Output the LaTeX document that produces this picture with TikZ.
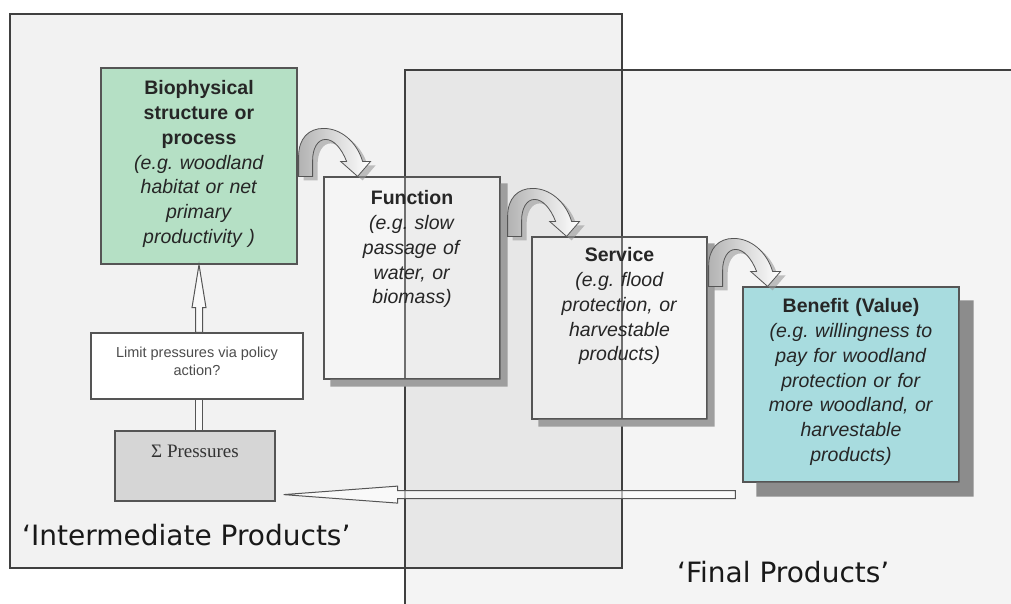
\documentclass[tikz,border=0pt]{standalone}
\usepackage{fontspec}
\setmainfont{Liberation Sans}
\newfontfamily\pressfont{Liberation Serif}
\newfontfamily\panelfont{DejaVu Sans}
\usetikzlibrary{positioning,calc}
\definecolor{panelgray}{HTML}{F2F2F2}
\definecolor{biogreen}{HTML}{B5E0C5}
\definecolor{benefitblue}{HTML}{A8DCDF}
\definecolor{pressgray}{HTML}{D6D6D6}
\definecolor{edgegray}{HTML}{555555}
\frenchspacing

\begin{document}
\begin{tikzpicture}[x=1pt,y=-1pt,
  box/.style={draw=edgegray,line width=1.2pt,inner sep=0pt},
  glassbox/.style={box,fill=white,fill opacity=0.25},
  txt/.style={inner sep=0pt,align=center,text=black!85,font=\fontsize{19.5}{24.8}\selectfont},
  boxshadow/.style={fill=black!38},
  hollow/.style={draw=edgegray,line width=1pt,fill=white,fill opacity=0.6},
  panel/.style={draw=black!75,line width=1.4pt},
  bend arrow/.pic={
    \fill[black!40,fill opacity=0.6,shift={(5,4)}] (0,0) -- (0,-20) .. controls (0,-38) and (10,-48) .. (25,-48) .. controls (42,-48) and (58,-35) .. (64,-15) -- (72,-15) -- (59,0) -- (42,-15) -- (48,-15) .. controls (43,-28) and (35,-37) .. (27,-37) .. controls (19,-37) and (14,-28) .. (14,-16) -- (14,0) -- cycle;
    \draw[draw=edgegray,line width=0.8pt,left color=black!30,right color=white] (0,0) -- (0,-20) .. controls (0,-38) and (10,-48) .. (25,-48) .. controls (42,-48) and (58,-35) .. (64,-15) -- (72,-15) -- (59,0) -- (42,-15) -- (48,-15) .. controls (43,-28) and (35,-37) .. (27,-37) .. controls (19,-37) and (14,-28) .. (14,-16) -- (14,0) -- cycle;
  }
]
\clip (0,0) rectangle (1011,603);
\fill[white] (0,0) rectangle (1011,603);

% the two panels
\fill[panelgray] (10,14) rectangle (622,568);
\fill[black,fill opacity=0.045] (405,70) rectangle (1020,610);
\draw[panel] (405,70) rectangle (1020,610);
\draw[panel] (10,14) rectangle (622,568);

% boxes
\node[box,fill=biogreen,minimum width=196pt,minimum height=196pt] (bio) at (199,166) {};
\node[txt,text width=190pt,below=13pt of bio.north] (biotxt) {\textbf{Biophysical}\\\textbf{structure or}\\\textbf{process}\\\textit{(e.g. woodland}\\\textit{habitat or net}\\\textit{primary}\\\textit{productivity )}};

\node[glassbox,minimum width=176pt,minimum height=202pt] (fun) at (412,278) {};
\fill[boxshadow] ([shift={(0,7)}]fun.north east) rectangle ([shift={(7,7)}]fun.south east)
  ([shift={(7,0)}]fun.south west) rectangle ([shift={(7,7)}]fun.south east);
\node[txt,text width=170pt,below=14pt of fun.north] (funtxt) {\textbf{Function}\\\textit{(e.g. slow}\\\textit{passage of}\\\textit{water, or}\\\textit{biomass)}};

\node[glassbox,minimum width=175pt,minimum height=182pt] (ser) at (619.5,328) {};
\fill[boxshadow] ([shift={(0,7)}]ser.north east) rectangle ([shift={(7,7)}]ser.south east)
  ([shift={(7,0)}]ser.south west) rectangle ([shift={(7,7)}]ser.south east);
\node[txt,text width=170pt,below=11pt of ser.north] (sertxt) {\textbf{Service}\\\textit{(e.g. flood}\\\textit{protection, or}\\\textit{harvestable}\\\textit{products)}};

\node[box,fill=benefitblue,minimum width=216pt,minimum height=195pt] (ben) at (851,384.5) {};
\fill[boxshadow,fill=black!45] ([shift={(0,14)}]ben.north east) rectangle ([shift={(14,14)}]ben.south east)
  ([shift={(14,0)}]ben.south west) rectangle ([shift={(14,14)}]ben.south east);
\node[txt,text width=210pt,below=12pt of ben.north] (bentxt) {\textbf{Benefit (Value)}\\\textit{(e.g. willingness to}\\\textit{pay for woodland}\\\textit{protection or for}\\\textit{more woodland, or}\\\textit{harvestable}\\\textit{products)}};

\node[box,fill=white,minimum width=212pt,minimum height=66pt] (lim) at (197,366) {};
\node[txt,text=black!70,font=\fontsize{14.5}{18.3}\selectfont] (limtxt) at ([yshift=5pt]lim.center) {Limit pressures via policy\\action?};

\node[box,fill=pressgray,minimum width=160pt,minimum height=70pt] (pres) at (195,466) {};
\node[txt,text=black!80,font=\pressfont\fontsize{19}{22}\selectfont,below=14pt of pres.north] (prestxt) {Σ Pressures};

% arrows between boxes
\pic at ($(bio.east |- fun.north)+(1,0)$) {bend arrow};
\pic at ($(fun.east |- ser.north)+(7,0)$) {bend arrow};
\pic at ($(ser.east |- ben.north)+(1,0)$) {bend arrow};

\draw[hollow] ($(bio.south |- lim.north)+(-3.5,0)$) -- ($(bio.south)+(-3.5,43)$) -- ($(bio.south)+(-7,43)$) -- (bio.south) -- ($(bio.south)+(7,43)$) -- ($(bio.south)+(3.5,43)$) -- ($(bio.south |- lim.north)+(3.5,0)$) -- cycle;
\draw[hollow] ($(bio.south |- pres.north)+(-3.5,0)$) rectangle ($(bio.south |- lim.south)+(3.5,0)$);

\coordinate (backtip) at ($(pres.south east)+(8,-7)$);
\coordinate (backtail) at ($(ben.west |- backtip)+(-7,0)$);
\draw[hollow] (backtip) -- ($(backtip)+(114,-8.5)$) -- ($(backtip)+(114,-4)$) -- ($(backtail)+(0,-4)$) -- ($(backtail)+(0,4)$) -- ($(backtip)+(114,4)$) -- ($(backtip)+(114,8.5)$) -- cycle;

% panel names
\node[anchor=base west,inner sep=0pt,text=black!90,font=\panelfont\fontsize{28}{32}\selectfont] (interlabel) at (22,545) {‘Intermediate Products’};
\node[anchor=base west,inner sep=0pt,text=black!90,font=\panelfont\fontsize{28}{32}\selectfont] (finallabel) at (677,582) {‘Final Products’};
\end{tikzpicture}
\end{document}
